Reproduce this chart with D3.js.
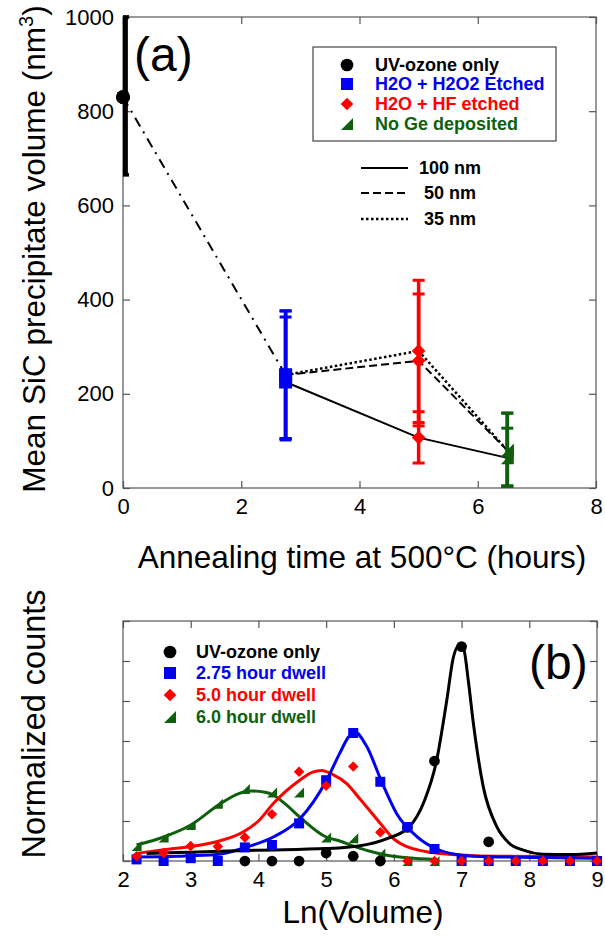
<!DOCTYPE html>
<html lang="en">
<head>
  <meta charset="UTF-8" />
  <title>SiC precipitate volume</title>
  <script src="https://d3js.org/d3.v7.min.js"></script>
  <style>
    body { margin: 0; background: #fff; }
    svg { font-family: "Liberation Sans", Arial, sans-serif; }
    .frame { fill: none; stroke: #555; stroke-width: 1.2px; }
    .tick line { stroke: #555; stroke-width: 1.2px; }
    .tick text { font-size: 22px; fill: #000; }
    .title { font-size: 31.5px; fill: #000; }
    .leg { font-size: 18px; font-weight: bold; }
  </style>
</head>
<body>
  <svg width="605" height="936"></svg>
  <script>
    // ---- panel (a) data ----
    const treatments = ["UV-ozone only", "H2O + H2O2 Etched", "H2O + HF etched", "No Ge deposited"];
    const treatColors = ["#000000", "#0000ee", "#ff0000", "#0f5f0f"];
    const treatShapes = ["circle", "square", "diamond", "triangle"];
    const annealHours = [0, 2.75, 5, 6.5];
    // mean volume (nm^3) per Ge thickness
    const thickness = ["100 nm", "50 nm", "35 nm"];
    const vol100 = [830, 225, 107, 64];
    const vol50  = [830, 240, 270, 80];
    const vol35  = [830, 240, 291, 80];
    const low100 = [665, 102, 53, 4];
    const high100 = [1000, 363, 162, 127];
    const low50 = [665, 105, 132, 4];
    const high50 = [1000, 376, 412, 159];
    const low35 = [665, 105, 139, 4];
    const high35 = [1000, 376, 441, 159];
    const xTicksA = [0, 2, 4, 6, 8];
    const yTicksA = [0, 200, 400, 600, 800, 1000];

    // ---- panel (b) data ----
    const dwellLabels = ["UV-ozone only", "2.75 hour dwell", "5.0 hour dwell", "6.0 hour dwell"];
    const lnVolume = [2.2, 2.6, 3.0, 3.4, 3.8, 4.2, 4.6, 5.0, 5.4, 5.8, 6.2, 6.6, 7.0, 7.4, 7.8, 8.2, 8.6, 9.0];
    const countsUV   = [null, null, null, null, 0, 0, 0, 0.2, 0.12, 0, 0.84, 2.5, 5.36, 0.48, null, null, null, null];
    const counts275  = [0.04, 0, 0.07, 0, 0.34, 0.4, 0.94, 2.02, 3.2, 1.98, 0.85, 0.3, 0, 0, 0, 0, 0, 0];
    const counts50   = [0.12, 0.2, 0.375, 0.36, 0.59, 1.17, 2.23, 1.88, 2.36, 0.72, 0, 0, 0, 0, 0, 0, 0, 0];
    const counts60   = [0.375, 0.59, 0.9, 1.43, 1.8, 1.71, 1.71, 0.59, 0.57, 0.19, 0, 0, null, null, null, null, null, null];
    // fitted curves: [ln(volume), counts]
    const fitUV = [[2.35,0.19],[3.0,0.22],[4.0,0.27],[5.0,0.31],[5.5,0.38],[5.9,0.56],[6.22,0.84],[6.45,1.5],[6.63,2.5],[6.78,4.0],[6.88,5.1],[6.96,5.38],[7.03,5.3],[7.1,4.5],[7.17,3.5],[7.32,1.86],[7.52,0.86],[7.7,0.45],[7.91,0.27],[8.2,0.17],[8.6,0.16],[9.0,0.2]];
    const fit275 = [[2.2,0.1],[2.8,0.12],[3.38,0.16],[3.81,0.34],[4.22,0.6],[4.61,1.05],[5.0,2.0],[5.2,2.69],[5.33,3.1],[5.42,3.23],[5.6,2.86],[5.82,1.98],[6.04,1.19],[6.34,0.61],[6.63,0.3],[6.9,0.17],[7.17,0.12],[8.16,0.09],[9.0,0.07]];
    const fit50 = [[2.2,0.19],[2.6,0.28],[3.0,0.36],[3.38,0.48],[3.78,0.73],[4.0,1.0],[4.22,1.44],[4.61,2.02],[4.8,2.22],[4.93,2.26],[5.1,2.16],[5.3,1.94],[5.5,1.55],[5.82,0.9],[6.0,0.55],[6.19,0.36],[6.68,0.19],[7.5,0.12],[9.0,0.1]];
    const fit60 = [[2.2,0.4],[2.6,0.6],[3.0,0.9],[3.41,1.4],[3.7,1.68],[3.9,1.75],[4.1,1.72],[4.22,1.65],[4.4,1.42],[4.61,1.1],[5.0,0.6],[5.2,0.5],[5.4,0.37],[5.82,0.17],[6.2,0.08],[6.63,0.04]];
    const xTicksB = [2, 3, 4, 5, 6, 7, 8, 9];
    const yTicksB = [0, 1, 2, 3, 4, 5, 6];

    const svg = d3.select("svg");

    function marker(sel, shape, size, color) {
      const s = size / 2;
      let d;
      if (shape === "circle") d = d3.symbol(d3.symbolCircle, size * size * 0.75)();
      else if (shape === "square") d = `M${-s},${-s}H${s}V${s}H${-s}Z`;
      else if (shape === "diamond") { const r = s * 1.05; d = `M0,${-r}L${r},0L0,${r}L${-r},0Z`; }
      else d = `M${-s},${s}L${s},${s}L${s},${-s}Z`;
      return sel.append("path").attr("d", d).attr("fill", color);
    }

    function frameAxes(g, x, y, xt, yt, showY) {
      const inner = 7;
      g.append("g").attr("transform", `translate(0,${y.range()[0]})`)
        .call(d3.axisBottom(x).tickValues(xt).tickSizeInner(-inner).tickSizeOuter(0).tickPadding(10).tickFormat(d3.format("d")))
        .call(a => a.select(".domain").remove());
      g.append("g").attr("transform", `translate(0,${y.range()[1]})`)
        .call(d3.axisTop(x).tickValues(xt).tickSizeInner(-inner).tickSizeOuter(0).tickFormat(""))
        .call(a => a.select(".domain").remove());
      g.append("g").attr("transform", `translate(${x.range()[0]},0)`)
        .call(d3.axisLeft(y).tickValues(yt).tickSizeInner(-inner).tickSizeOuter(0).tickPadding(9).tickFormat(showY ? d3.format("d") : ""))
        .call(a => a.select(".domain").remove());
      g.append("g").attr("transform", `translate(${x.range()[1]},0)`)
        .call(d3.axisRight(y).tickValues(yt).tickSizeInner(-inner).tickSizeOuter(0).tickFormat(""))
        .call(a => a.select(".domain").remove());
      g.append("rect").attr("class", "frame")
        .attr("x", x.range()[0]).attr("y", y.range()[1])
        .attr("width", x.range()[1] - x.range()[0]).attr("height", y.range()[0] - y.range()[1]);
    }

    // ================= panel (a) =================
    const xA = d3.scaleLinear().domain([0, 8]).range([123, 596]);
    const yA = d3.scaleLinear().domain([0, 1000]).range([488, 17]);
    const gA = svg.append("g");
    frameAxes(gA, xA, yA, xTicksA, yTicksA, true);

    svg.append("defs").append("clipPath").attr("id", "clipA")
      .append("rect").attr("x", 123).attr("y", 10).attr("width", 473).attr("height", 478);

    const lineA = d3.line().x(d => xA(d[0])).y(d => yA(d[1]));
    // dash-dot from UV-ozone to first etched point
    gA.append("path").attr("d", lineA([[annealHours[0], vol100[0]], [annealHours[1], vol50[1]]]))
      .attr("fill", "none").attr("stroke", "#000").attr("stroke-width", 2).attr("stroke-dasharray", "10,6,2,6");
    const thickSeries = [vol100, vol50, vol35];
    const dashes = [null, "8,4", "2.5,2.5"];
    thickSeries.forEach((v, i) => {
      gA.append("path").attr("d", lineA(annealHours.slice(1).map((t, k) => [t, v[k + 1]])))
        .attr("fill", "none").attr("stroke", "#000").attr("stroke-width", i === 2 ? 2.5 : 2)
        .attr("stroke-dasharray", dashes[i]);
    });

    // error bars
    const errG = gA.append("g").attr("clip-path", "url(#clipA)");
    [[low100, high100], [low50, high50], [low35, high35]].forEach(([lo, hi]) => {
      annealHours.forEach((t, k) => {
        const x = xA(t), c = treatColors[k];
        errG.append("line").attr("x1", x).attr("x2", x).attr("y1", yA(lo[k])).attr("y2", yA(hi[k]))
          .attr("stroke", c).attr("stroke-width", k === 0 ? 9 : 3.5);
        [lo[k], hi[k]].forEach(v => errG.append("line")
          .attr("x1", x - 6).attr("x2", x + 6).attr("y1", yA(v)).attr("y2", yA(v))
          .attr("stroke", c).attr("stroke-width", 3));
      });
    });

    // markers
    thickSeries.forEach(v => {
      annealHours.forEach((t, k) => {
        marker(gA, treatShapes[k], k === 0 ? 14 : 13, treatColors[k])
          .attr("transform", `translate(${xA(t)},${yA(v[k])})`);
      });
    });

    gA.append("text").attr("x", 134).attr("y", 71).attr("font-size", 48).text("(a)");

    // legend (a)
    const legA = gA.append("g");
    legA.append("rect").attr("x", 313).attr("y", 47).attr("width", 243).attr("height", 94)
      .attr("fill", "#fff").attr("stroke", "#444").attr("stroke-width", 1.2);
    const rowsA = [65, 84, 104, 124];
    treatments.forEach((t, i) => {
      marker(legA, treatShapes[i], i === 0 ? 13 : 12, treatColors[i]).attr("transform", `translate(347,${rowsA[i]})`);
      legA.append("text").attr("class", "leg").attr("x", 375).attr("y", rowsA[i])
        .attr("dy", "0.35em").attr("fill", treatColors[i]).text(t);
    });
    const rowsL = [168, 193, 219];
    const textXL = [419, 424, 424];
    thickness.forEach((t, i) => {
      legA.append("line").attr("x1", 361).attr("x2", 408).attr("y1", rowsL[i]).attr("y2", rowsL[i])
        .attr("stroke", "#000").attr("stroke-width", i === 2 ? 2.5 : 2).attr("stroke-dasharray", dashes[i]);
      legA.append("text").attr("class", "leg").attr("x", textXL[i]).attr("y", rowsL[i])
        .attr("dy", "0.35em").text(t);
    });

    // titles (a)
    svg.append("text").attr("class", "title").attr("text-anchor", "middle")
      .attr("x", 362).attr("y", 568).text("Annealing time at 500°C (hours)");
    const ytA = svg.append("text").attr("class", "title").attr("text-anchor", "middle")
      .attr("transform", "translate(45,249) rotate(-90)");
    ytA.append("tspan").text("Mean SiC precipitate volume (nm");
    ytA.append("tspan").attr("font-size", 20).attr("dy", -12).text("3");
    ytA.append("tspan").attr("dy", 12).text(")");

    // ================= panel (b) =================
    const xB = d3.scaleLinear().domain([2, 9]).range([123, 597]);
    const yB = d3.scaleLinear().domain([0, 6]).range([861, 621]);
    const gB = svg.append("g");
    frameAxes(gB, xB, yB, xTicksB, yTicksB, false);

    const dwellColors = ["#000000", "#0000ee", "#ff0000", "#0f5f0f"];
    const counts = [countsUV, counts275, counts50, counts60];
    const fits = [fitUV, fit275, fit50, fit60];
    const lineB = d3.line().curve(d3.curveMonotoneX).x(d => xB(d[0])).y(d => yB(d[1]));

    // draw order: green, red, blue, black
    [3, 2, 1, 0].forEach(i => {
      gB.append("path").attr("d", lineB(fits[i]))
        .attr("fill", "none").attr("stroke", dwellColors[i]).attr("stroke-width", 3);
    });
    [3, 0, 1, 2].forEach(i => {
      lnVolume.forEach((lv, k) => {
        const v = counts[i][k];
        if (v === null) return;
        marker(gB, treatShapes[i], i === 0 ? 11 : 10, dwellColors[i])
          .attr("transform", `translate(${xB(lv)},${yB(v)})`);
      });
    });

    gB.append("text").attr("x", 529).attr("y", 679).attr("font-size", 48).text("(b)");

    const rowsB = [652, 673, 695, 717];
    dwellLabels.forEach((t, i) => {
      marker(gB, treatShapes[i], i === 0 ? 13 : 12, dwellColors[i]).attr("transform", `translate(170,${rowsB[i]})`);
      gB.append("text").attr("class", "leg").attr("x", 196).attr("y", rowsB[i])
        .attr("dy", "0.35em").attr("fill", dwellColors[i]).text(t);
    });

    svg.append("text").attr("class", "title").attr("text-anchor", "middle")
      .attr("x", 363).attr("y", 923).text("Ln(Volume)");
    svg.append("text").attr("class", "title").attr("text-anchor", "middle")
      .attr("style", "font-size:32.5px")
      .attr("transform", "translate(45,724) rotate(-90)").text("Normalized counts");
  </script>
</body>
</html>
